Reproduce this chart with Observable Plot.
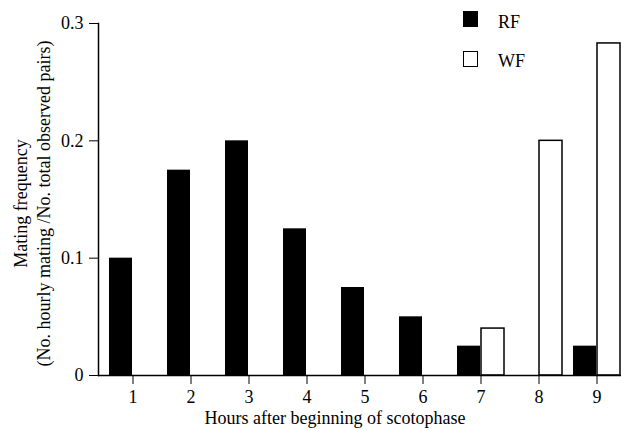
<!DOCTYPE html>
<html><head><meta charset="utf-8">
<script src="https://cdn.jsdelivr.net/npm/d3@7"></script>
<script src="https://cdn.jsdelivr.net/npm/@observablehq/plot@0.6"></script>
<style>
html,body{margin:0;padding:0;background:#fff;overflow:hidden;}
#wrap{position:relative;width:621px;height:430px;font-family:"Liberation Serif","Times New Roman",serif;color:#000;}
.sw{position:absolute;box-sizing:border-box;width:15px;height:16px;}
.lt{position:absolute;font-size:18px;line-height:18px;}
</style></head><body><div id="wrap"></div>
<script>
const hours = [1, 2, 3, 4, 5, 6, 7, 8, 9];
const rfValues = [0.1, 0.175, 0.2, 0.125, 0.075, 0.05, 0.025, 0, 0.025];
const wfValues = [0, 0, 0, 0, 0, 0, 0.04, 0.2, 0.283];
const seriesNames = ["RF", "WF"];
const yTicks = [0, 0.1, 0.2, 0.3];
const yLabel = "Mating frequency\n(No. hourly mating /No. total observed pairs)";
const xLabel = "Hours after beginning of scotophase";

const rf = hours.map((h, i) => ({hour: h, value: rfValues[i]}));
const wf = hours.map((h, i) => ({hour: h, value: wfValues[i]}));

const chart = Plot.plot({
  width: 621, height: 430,
  marginTop: 23, marginBottom: 55, marginLeft: 98, marginRight: 0,
  style: {fontFamily: "Liberation Serif", fontSize: "18px", background: "white", color: "black"},
  x: {type: "band", domain: hours, range: [106, 624], paddingInner: 0.183, paddingOuter: 0, label: null, tickSize: 9, tickPadding: 6},
  y: {domain: [0, 0.3], ticks: yTicks, tickSize: 9, tickPadding: 6, tickFormat: d => d === 0 ? "0" : d.toFixed(1), label: null},
  marks: [
    Plot.barY(wf, {x: "hour", y: "value", fill: "white", stroke: "black", strokeWidth: 1.5, insetLeft: 24}),
    Plot.barY(rf, {x: "hour", y: "value", fill: "black", insetRight: 24}),
    Plot.ruleY([0], {strokeWidth: 1.5}),
    Plot.frame({anchor: "left", strokeWidth: 1.5}),
    Plot.text([yLabel], {frameAnchor: "left", textAnchor: "middle", rotate: -90, dx: -67, dy: 4, lineHeight: 1.25, fontSize: 18}),
    Plot.text([xLabel], {frameAnchor: "bottom", dx: -25, dy: 48, fontSize: 18})
  ]
});
const wrap = document.getElementById("wrap");
wrap.appendChild(chart);

// legend
const legendStyles = [
  {bg: "#000", border: "none"},
  {bg: "#fff", border: "1.5px solid #000"}
];
seriesNames.forEach((name, i) => {
  const sw = document.createElement("div");
  sw.className = "sw";
  sw.style.left = "463px";
  sw.style.top = (11 + i * 40) + "px";
  sw.style.background = legendStyles[i].bg;
  sw.style.border = legendStyles[i].border;
  wrap.appendChild(sw);
  const t = document.createElement("div");
  t.className = "lt";
  t.style.left = "498px";
  t.style.top = (13 + i * 39) + "px";
  t.textContent = name;
  wrap.appendChild(t);
});
</script>
</body></html>
